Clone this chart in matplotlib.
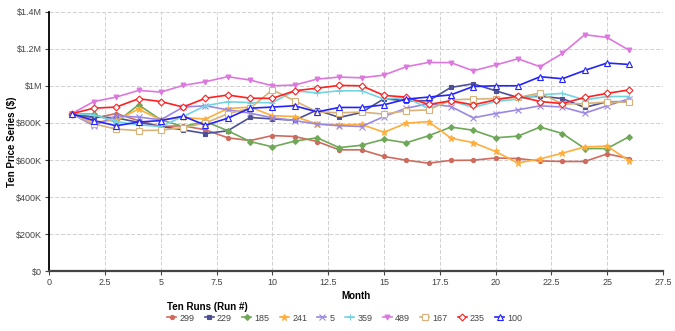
import matplotlib
matplotlib.use("Agg")
import matplotlib.pyplot as plt
from matplotlib.ticker import FuncFormatter, MultipleLocator

plt.rcParams["font.family"] = ["Liberation Sans", "DejaVu Sans"]

months = list(range(1, 27))

run_299 = [0.85, 0.826, 0.851, 0.813, 0.781, 0.785, 0.763, 0.72, 0.705, 0.732, 0.727, 0.70, 0.655,
           0.655, 0.619, 0.599, 0.583, 0.598, 0.599, 0.611, 0.608, 0.595, 0.592, 0.592, 0.633, 0.608]
run_229 = [0.85, 0.832, 0.828, 0.803, 0.781, 0.763, 0.743, 0.758, 0.83, 0.822, 0.815, 0.87, 0.83,
           0.857, 0.931, 0.92, 0.92, 0.992, 1.012, 0.974, 0.938, 0.945, 0.932, 0.884, 0.915, 0.915]
run_185 = [0.85, 0.848, 0.803, 0.898, 0.817, 0.781, 0.808, 0.758, 0.70, 0.671, 0.702, 0.72, 0.667,
           0.68, 0.712, 0.693, 0.731, 0.778, 0.761, 0.72, 0.729, 0.778, 0.743, 0.662, 0.662, 0.727]
run_241 = [0.85, 0.805, 0.815, 0.875, 0.817, 0.83, 0.821, 0.878, 0.886, 0.839, 0.835, 0.795, 0.79,
           0.792, 0.75, 0.799, 0.808, 0.718, 0.694, 0.646, 0.584, 0.606, 0.637, 0.671, 0.675, 0.595]
run_5 = [0.85, 0.785, 0.839, 0.832, 0.817, 0.886, 0.893, 0.871, 0.853, 0.828, 0.813, 0.794, 0.785,
         0.781, 0.835, 0.88, 0.904, 0.889, 0.828, 0.851, 0.871, 0.893, 0.886, 0.853, 0.893, 0.931]
run_359 = [0.85, 0.844, 0.808, 0.79, 0.781, 0.835, 0.893, 0.915, 0.91, 0.91, 0.974, 0.962, 0.974,
           0.974, 0.929, 0.938, 0.877, 0.92, 0.884, 0.916, 0.929, 0.952, 0.96, 0.925, 0.943, 0.943]
run_489 = [0.85, 0.916, 0.94, 0.976, 0.967, 1.003, 1.023, 1.05, 1.032, 1.001, 1.005, 1.037, 1.048,
           1.044, 1.059, 1.104, 1.127, 1.126, 1.082, 1.113, 1.147, 1.104, 1.176, 1.277, 1.262, 1.192]
run_167 = [0.85, 0.795, 0.767, 0.759, 0.761, 0.775, 0.80, 0.85, 0.88, 0.979, 0.92, 0.86, 0.855,
           0.859, 0.848, 0.866, 0.871, 0.925, 0.929, 0.932, 0.938, 0.962, 0.902, 0.905, 0.913, 0.913]
run_235 = [0.85, 0.88, 0.886, 0.931, 0.916, 0.886, 0.934, 0.951, 0.934, 0.933, 0.974, 0.988, 1.003,
           1.001, 0.949, 0.94, 0.90, 0.92, 0.898, 0.925, 0.945, 0.916, 0.905, 0.938, 0.96, 0.979]
run_100 = [0.85, 0.813, 0.785, 0.805, 0.813, 0.837, 0.788, 0.826, 0.88, 0.886, 0.893, 0.86, 0.884,
           0.884, 0.898, 0.929, 0.94, 0.952, 0.997, 1.001, 1.001, 1.05, 1.039, 1.084, 1.124, 1.116]

run_names = ["299", "229", "185", "241", "5", "359", "489", "167", "235", "100"]
run_values = [run_299, run_229, run_185, run_241, run_5, run_359, run_489, run_167, run_235, run_100]

colors = ["#cf6b5e", "#4d5095", "#6fa858", "#ffad3b", "#9a88e3", "#73d4e2", "#dd77dd", "#d8b27a", "#ff2020", "#2323ff"]
markers = ["o", "s", "D", "*", "x", "+", "v", "s", "D", "^"]
filled = [True, True, True, True, True, True, True, False, False, False]
msizes = [3, 3.5, 3, 4.5, 4, 4.5, 3.5, 4, 3.5, 4]

fig = plt.figure(figsize=(6.75, 3.31), dpi=100)
ax = fig.add_axes([0.073, 0.181, 0.909, 0.783])

for name, vals, c, m, f, ms in zip(run_names, run_values, colors, markers, filled, msizes):
    ax.plot(months, [v * 1e6 for v in vals], color=c, lw=1.2, marker=m, ms=ms,
            markerfacecolor=c if f else "white", markeredgecolor=c, markeredgewidth=0.8,
            label=name, zorder=3)

ax.set_xlim(0, 27.5)
ax.set_ylim(0, 1.4e6)
ax.xaxis.set_major_locator(MultipleLocator(2.5))
ax.yaxis.set_major_locator(MultipleLocator(2e5))

def xfmt(v, p):
    return f"{v:g}"

def yfmt(v, p):
    if v == 0:
        return "$0"
    if v >= 1e6:
        return f"${v/1e6:g}M"
    return f"${v/1e3:g}K"

ax.xaxis.set_major_formatter(FuncFormatter(xfmt))
ax.yaxis.set_major_formatter(FuncFormatter(yfmt))
ax.tick_params(labelsize=6.5, colors="#444444", length=3, width=0.8)
ax.tick_params(axis="x", pad=2)
ax.tick_params(axis="y", pad=2)
ax.grid(True, color="#d0d0d0", linestyle=(0, (4, 2)), lw=0.7, zorder=0)
for s in ["top", "right"]:
    ax.spines[s].set_visible(False)
ax.spines["left"].set_color("black")
ax.spines["left"].set_linewidth(1.3)
ax.spines["bottom"].set_color("#444444")
ax.spines["bottom"].set_linewidth(1.6)

ax.set_xlabel("Month", fontsize=7, fontweight="bold")
ax.xaxis.set_label_coords(0.5, -0.075)
ax.set_ylabel("Ten Price Series ($)", fontsize=7, fontweight="bold")
ax.yaxis.set_label_coords(-0.053, 0.5)

leg = fig.legend(loc="lower left", bbox_to_anchor=(0.245, 0.02), ncol=10, fontsize=6.5,
                 title="Ten Runs (Run #)", frameon=False, handlelength=1.0,
                 columnspacing=1.15, handletextpad=0.35, borderaxespad=0, borderpad=0.2,
                 labelspacing=0.2)
leg.get_title().set_fontweight("bold")
leg.get_title().set_fontsize(7)
leg._legend_box.align = "left"
for t in leg.get_texts():
    t.set_color("#444444")

fig.savefig("out.png", dpi=100)
